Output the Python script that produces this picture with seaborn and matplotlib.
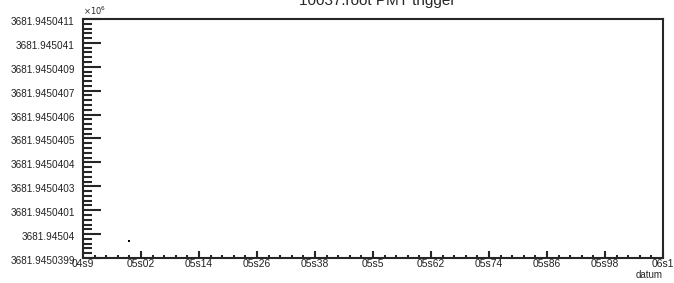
import numpy as np
import pandas as pd
import matplotlib
matplotlib.use("Agg")
import matplotlib.pyplot as plt
import matplotlib.transforms as mtransforms
import seaborn as sns
from matplotlib.ticker import AutoMinorLocator

# data (time in seconds, value in units of 1e6)
times = [4.995]
values = [3681.9450399852]

x_ticks = [4.9, 5.02, 5.14, 5.26, 5.38, 5.5, 5.62, 5.74, 5.86, 5.98, 6.1]
x_labels = ["04s9", "05s02", "05s14", "05s26", "05s38", "05s5",
            "05s62", "05s74", "05s86", "05s98", "06s1"]
y_ticks = [3681.9450399 + i * 0.00000012 for i in range(11)]
y_labels = ["3681.9450399", "3681.94504", "3681.9450401", "3681.9450403",
            "3681.9450404", "3681.9450405", "3681.9450406", "3681.9450407",
            "3681.9450409", "3681.945041", "3681.9450411"]

sns.set_style("ticks")
plt.rcParams['font.family'] = ['Liberation Sans', 'DejaVu Sans']

W, H = 674, 283
fig = plt.figure(figsize=(W / 100, H / 100), dpi=100)
ax = fig.add_axes([83 / W, 1 - 258 / H, (663 - 83) / W, (258 - 19) / H])

df = pd.DataFrame({"t": times, "v": values})
sns.scatterplot(data=df, x="t", y="v", ax=ax, marker="s", s=4,
                color="black", edgecolor="none", legend=False)

ax.set_xlim(x_ticks[0], x_ticks[-1])
ax.set_ylim(y_ticks[0], y_ticks[-1])
ax.set_xticks(x_ticks)
ax.set_xticklabels(x_labels, fontsize=7.4, color="#222222")
ax.set_yticks(y_ticks)
ax.set_yticklabels(y_labels, fontsize=7.2, color="#222222")
ax.xaxis.set_minor_locator(AutoMinorLocator(5))
ax.yaxis.set_minor_locator(AutoMinorLocator(5))
ax.tick_params(axis="x", which="major", direction="in", length=5, width=1.5, pad=1)
ax.tick_params(axis="x", which="minor", direction="in", length=2.5, width=1.5)
ax.tick_params(axis="y", which="major", direction="in", length=13, width=1.5, pad=6)
ax.tick_params(axis="y", which="minor", direction="in", length=6.5, width=1.5)
ax.tick_params(top=False, right=False)
for s in ax.spines.values():
    s.set_linewidth(1.5)
    s.set_visible(True)
ax.set_xlabel("")
ax.set_ylabel("")

# ROOT draws the y labels slightly below their ticks
shift = mtransforms.ScaledTranslation(0, -2 / 100, fig.dpi_scale_trans)
for lab in ax.get_yticklabels():
    lab.set_transform(lab.get_transform() + shift)

fig.text(377 / W, 1 - 5 / H, "10037.root PMT trigger", ha="center",
         va="baseline", fontsize=11)
fig.text(83 / W, 1 - 15 / H, r"$\times10^{6}$", ha="left", va="baseline",
         fontsize=6)
fig.text(663 / W, 1 - 278 / H, "datum", ha="right", va="baseline", fontsize=7)

fig.savefig("out.png", dpi=100)
